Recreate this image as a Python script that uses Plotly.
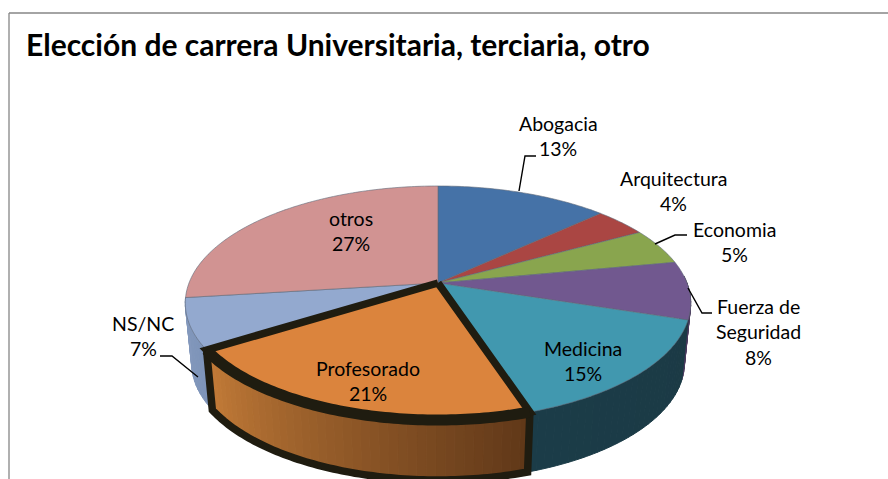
import math
import plotly.graph_objects as go

# ---- data ----
categories = ["Abogacia", "Arquitectura", "Economia", "Fuerza de<br>Seguridad",
              "Medicina", "Profesorado", "NS/NC", "otros"]
values = [13, 4, 5, 8, 15, 21, 7, 27]
title_text = "Elección de carrera Universitaria, terciaria, otro"

# ---- styles ----
top_colors = ["#4572a7", "#aa4643", "#89a54e", "#71588f", "#4198af", "#db843d", "#93a9cf", "#d19392"]
side_left = ["#2e4c70", "#722f2d", "#5c6e34", "#4c3b60", "#1b3c48", "#c47c38", "#8499bd", "#8c6362"]
side_right = ["#2e4c70", "#722f2d", "#5c6e34", "#3a2d4a", "#1b3a45", "#5f3718", "#7d93b8", "#8c6362"]
highlight = "Profesorado"
stroke = "#1f1c10"
font = "Lato"

# pie geometry in figure pixels (axes span the page 1:1)
W, H = 888, 479
HUB_X, HUB_Y = 438, 283
RX, RY, PERSP = 249, 113.6, 0.171
DEPTH, BASE_SCALE = 60, 0.975

# label anchors: centre of first line
label_pos = [(558, 123), (673, 178), (734, 229), (758, 306),
             (583, 348), (368, 368), (143, 323), (351, 218)]
LINE_GAP = 25.6
leaders = [
    [(519, 191), (525, 156), (536, 156)],
    [(655, 244), (675, 235), (687, 235)],
    [(688, 288), (702, 313), (712, 313)],
    [(160, 356), (172, 356), (198, 377)],
]


def point(frac, base=False):
    a = 2 * math.pi * frac
    u, v = math.sin(a), math.cos(a)
    s = 1 / (1 + PERSP * v)
    x = HUB_X + RX * u * s
    y = HUB_Y - RY * v * s
    if base:
        x = HUB_X + (x - HUB_X) * BASE_SCALE
        y += DEPTH
    return x, y


def arc(f0, f1, base=False):
    n = max(2, int((f1 - f0) * 400))
    return [point(f0 + (f1 - f0) * i / n, base) for i in range(n + 1)]


def mix(c0, c1, t):
    a = [int(c0[i:i + 2], 16) for i in (1, 3, 5)]
    b = [int(c1[i:i + 2], 16) for i in (1, 3, 5)]
    return "rgb(%d,%d,%d)" % tuple(round(p + (q - p) * t) for p, q in zip(a, b))


def poly(pts, fill=None, line=None, width=0.75):
    xs = [p[0] for p in pts]
    ys = [p[1] for p in pts]
    return go.Scatter(x=xs, y=ys, mode="lines", hoverinfo="skip", showlegend=False,
                      fill="toself" if fill else "none", fillcolor=fill,
                      line=dict(color=line or "rgba(0,0,0,0)", width=width if line else 0,
                                simplify=False))


fig = go.Figure()
total = sum(values)
bounds = [0]
for v in values:
    bounds.append(bounds[-1] + v / total)

# extruded sides
for i, cat in enumerate(categories):
    f0, f1 = bounds[i], bounds[i + 1]
    lo, hi = max(f0, 0.24), min(f1, 0.73)
    if lo >= hi:
        continue
    steps = max(1, int((hi - lo) * 200))
    for k in range(steps):
        a = lo + (hi - lo) * k / steps
        b = lo + (hi - lo) * (k + 1) / steps
        col = mix(side_right[i], side_left[i], (k + 0.5) / steps)
        pts = arc(a, b) + arc(a, b, True)[::-1]
        pts.append(pts[0])
        fig.add_trace(poly(pts, fill=col, line=col, width=1))

# top faces
hub = (HUB_X, HUB_Y)
for i, cat in enumerate(categories):
    if cat == highlight:
        continue
    pts = [hub] + arc(bounds[i], bounds[i + 1]) + [hub]
    fig.add_trace(poly(pts, fill=top_colors[i], line="#5f6a78", width=0.6))

# highlighted slice
i = categories.index(highlight)
f0, f1 = bounds[i], bounds[i + 1]
side_outline = arc(f0, f1) + arc(f0, f1, True)[::-1]
side_outline.append(side_outline[0])
fig.add_trace(poly(side_outline, line=stroke, width=7.5))
pts = [hub] + arc(f0, f1) + [hub]
fig.add_trace(poly(pts, fill=top_colors[i], line=stroke, width=7.5))
# the front rim of the highlighted slice is drawn heavier
fig.add_trace(poly(arc(f0, f1), line=stroke, width=11))

# leaders
for path in leaders:
    fig.add_trace(poly(path, line="#000000", width=1.4))

# labels
annotations = []
for cat, v, (lx, ly) in zip(categories, values, label_pos):
    lines = cat.split("<br>") + [f"{v}%"]
    for n, text in enumerate(lines):
        annotations.append(dict(x=lx, y=ly + n * LINE_GAP, text=text, showarrow=False,
                                xanchor="center", yanchor="middle",
                                font=dict(family=font, size=19.5, color="#000000")))

frame = [
    dict(type="line", x0=9, x1=W, y0=13, y1=13, line=dict(color="#868686", width=1.3)),
    dict(type="line", x0=9, x1=9, y0=13, y1=H, line=dict(color="#868686", width=1.3)),
]

fig.update_layout(
    width=W, height=H, autosize=False,
    margin=dict(l=0, r=0, t=0, b=0),
    paper_bgcolor="#ffffff", plot_bgcolor="#ffffff",
    showlegend=False,
    title=dict(text=f"<b>{title_text}</b>", x=26 / W, xanchor="left", xref="paper",
               y=1 - 45 / H, yanchor="middle", yref="container",
               font=dict(family=font, size=30, color="#000000")),
    xaxis=dict(range=[0, W], visible=False, fixedrange=True),
    yaxis=dict(range=[H, 0], visible=False, fixedrange=True),
    annotations=annotations,
    shapes=frame,
)
fig.write_html("out.html", config={"displayModeBar": False},
               post_script="document.body.style.margin='0';document.documentElement.style.overflow='hidden';")
